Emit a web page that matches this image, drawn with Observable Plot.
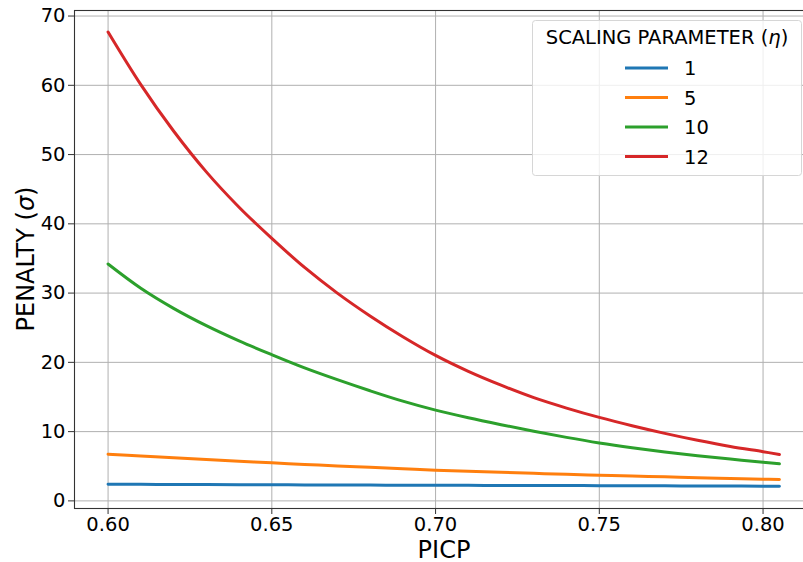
<!DOCTYPE html>
<html>
<head>
<meta charset="utf-8">
<script src="https://cdn.jsdelivr.net/npm/d3@7"></script>
<script src="https://cdn.jsdelivr.net/npm/@observablehq/plot@0.6"></script>
<style>
  html, body { margin: 0; padding: 0; background: #fff; overflow: hidden; }
  #wrap { position: relative; width: 803px; height: 562px; overflow: hidden; font-family: "DejaVu Sans", sans-serif; }
  #wrap > svg { max-width: none !important; }
  #legend { position: absolute; left: 0; top: 0; pointer-events: none; }
</style>
</head>
<body>
<div id="wrap"></div>
<script>
// ---- data ----
const picp = [0.60, 0.61, 0.62, 0.63, 0.64, 0.65, 0.66, 0.67, 0.68, 0.69, 0.70,
              0.71, 0.72, 0.73, 0.74, 0.75, 0.76, 0.77, 0.78, 0.79, 0.80, 0.805];
const eta1  = [2.41, 2.39, 2.37, 2.36, 2.34, 2.33, 2.31, 2.30, 2.28, 2.27, 2.26,
               2.24, 2.23, 2.22, 2.21, 2.20, 2.18, 2.17, 2.16, 2.15, 2.13, 2.12];
const eta5  = [6.74, 6.47, 6.22, 5.97, 5.73, 5.49, 5.27, 5.05, 4.84, 4.63, 4.43,
               4.28, 4.13, 3.98, 3.84, 3.71, 3.59, 3.47, 3.35, 3.24, 3.14, 3.08];
const eta10 = [34.2, 30.7, 27.8, 25.3, 23.1, 21.1, 19.2, 17.5, 15.9, 14.4, 13.1,
               12.0, 11.0, 10.05, 9.17, 8.37, 7.68, 7.07, 6.52, 6.03, 5.58, 5.35];
const eta12 = [67.7, 60.1, 53.4, 47.5, 42.4, 37.9, 33.7, 30.0, 26.7, 23.7, 21.0,
               18.7, 16.7, 14.9, 13.4, 12.05, 10.85, 9.75, 8.75, 7.85, 7.1, 6.7];
const seriesNames = ["1", "5", "10", "12"];
const seriesColors = ["#1f77b4", "#ff7f0e", "#2ca02c", "#d62728"];
const xTicks = [0.60, 0.65, 0.70, 0.75, 0.80];
const yTicks = [0, 10, 20, 30, 40, 50, 60, 70];
const xLabel = "PICP";
const yLabelText = "PENALTY (";
const yLabelSymbol = "σ";
const legendTitle = "SCALING PARAMETER (";
const legendSymbol = "η";

const allSeries = [eta1, eta5, eta10, eta12];
const rows = [];
allSeries.forEach((vals, si) => {
  vals.forEach((v, i) => rows.push({x: picp[i], y: v, s: seriesNames[si]}));
});

const W = 813, H = 562;
const chart = Plot.plot({
  width: W,
  height: H,
  marginLeft: 74,
  marginRight: 0.5,
  marginTop: 10,
  marginBottom: 54,
  style: {fontFamily: "DejaVu Sans", fontSize: "19.5px", color: "#000", background: "#fff", maxWidth: "none"},
  x: {domain: [0.58975, 0.81525]},
  y: {domain: [-1.1, 70.8]},
  color: {domain: seriesNames, range: seriesColors},
  marks: [
    Plot.gridX(xTicks, {stroke: "#b0b0b0", strokeOpacity: 1, strokeWidth: 1}),
    Plot.gridY(yTicks, {stroke: "#b0b0b0", strokeOpacity: 1, strokeWidth: 1}),
    Plot.lineY(rows, {x: "x", y: "y", z: "s", stroke: "s", strokeWidth: 3, curve: "catmull-rom"}),
    Plot.frame({stroke: "#333", strokeWidth: 1.1}),
    Plot.axisX(xTicks, {tickFormat: d3.format(".2f"), tickSize: 6, tickPadding: 3, label: null, stroke: "#333"}),
    Plot.axisY(yTicks, {tickSize: 6, tickPadding: 3, label: null, stroke: "#333"})
  ]
});
chart.style.maxWidth = "none";
document.getElementById("wrap").appendChild(chart);

// ---- overlay: axis labels and legend ----
const leg = d3.select("#wrap").append("svg")
  .attr("id", "legend").attr("width", 803).attr("height", 562);
leg.append("text")
  .attr("x", 444).attr("y", 557.5).attr("text-anchor", "middle")
  .attr("font-family", "DejaVu Sans").attr("font-size", 24).attr("fill", "#000")
  .text(xLabel);
const yl = leg.append("text")
  .attr("transform", "translate(34,259) rotate(-90)")
  .attr("text-anchor", "middle")
  .attr("font-family", "DejaVu Sans").attr("font-size", 24).attr("fill", "#000");
yl.append("tspan").text(yLabelText);
yl.append("tspan").attr("font-style", "italic").text(yLabelSymbol);
yl.append("tspan").text(")");

leg.append("rect")
  .attr("x", 532.5).attr("y", 20.5).attr("width", 269).attr("height", 155)
  .attr("rx", 3).attr("fill", "rgba(255,255,255,0.8)").attr("stroke", "#d6d6d6").attr("stroke-width", 1);
const t = leg.append("text")
  .attr("x", 667).attr("y", 44).attr("text-anchor", "middle")
  .attr("font-family", "DejaVu Sans").attr("font-size", 19.5).attr("fill", "#000");
t.append("tspan").text(legendTitle);
t.append("tspan").attr("font-style", "italic").text(legendSymbol);
t.append("tspan").text(")");
const rowY = [68, 97.5, 127, 156.5];
seriesNames.forEach((name, i) => {
  leg.append("line").attr("x1", 625).attr("x2", 668).attr("y1", rowY[i]).attr("y2", rowY[i])
    .attr("stroke", seriesColors[i]).attr("stroke-width", 3);
  leg.append("text").attr("x", 684).attr("y", rowY[i] + 7)
    .attr("font-family", "DejaVu Sans").attr("font-size", 19.5).attr("fill", "#000").text(name);
});
</script>
</body>
</html>
